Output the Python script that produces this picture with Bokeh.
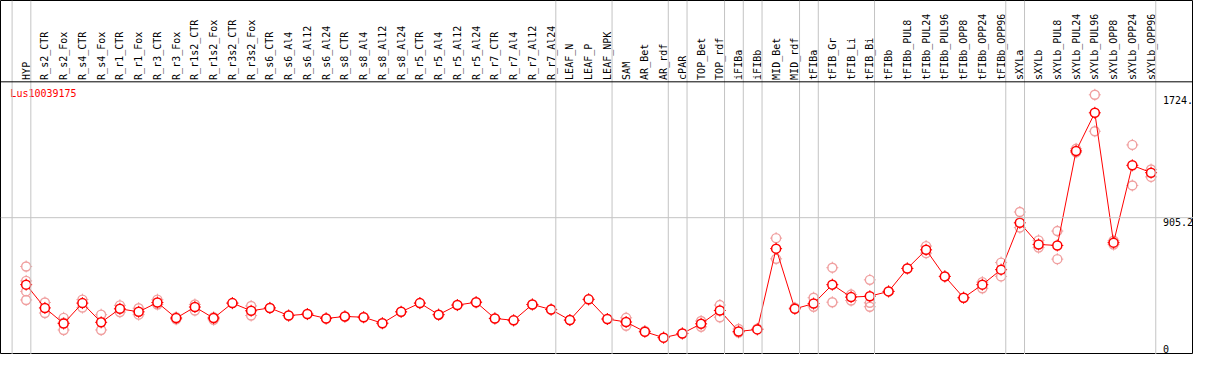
import math
from bokeh.plotting import figure
from bokeh.models import Range1d, Span, ColumnDataSource
from bokeh.core.properties import value
from bokeh.embed import file_html
from bokeh.resources import INLINE

gene = "Lus10039175"

categories = [
    "HYP", "R_s2_CTR", "R_s2_Fox", "R_s4_CTR", "R_s4_Fox", "R_r1_CTR", "R_r1_Fox",
    "R_r3_CTR", "R_r3_Fox", "R_r1s2_CTR", "R_r1s2_Fox", "R_r3s2_CTR", "R_r3s2_Fox",
    "R_s6_CTR", "R_s6_Al4", "R_s6_Al12", "R_s6_Al24", "R_s8_CTR", "R_s8_Al4",
    "R_s8_Al12", "R_s8_Al24", "R_r5_CTR", "R_r5_Al4", "R_r5_Al12", "R_r5_Al24",
    "R_r7_CTR", "R_r7_Al4", "R_r7_Al12", "R_r7_Al24", "LEAF_N", "LEAF_P", "LEAF_NPK",
    "SAM", "AR_Bet", "AR_rdf", "cPAR", "TOP_Bet", "TOP_rdf", "iFIBa", "iFIBb",
    "MID_Bet", "MID_rdf", "tFIBa", "tFIB_Gr", "tFIB_Li", "tFIB_Bi", "tFIBb",
    "tFIBb_PUL8", "tFIBb_PUL24", "tFIBb_PUL96", "tFIBb_OPP8", "tFIBb_OPP24",
    "tFIBb_OPP96", "sXYLa", "sXYLb", "sXYLb_PUL8", "sXYLb_PUL24", "sXYLb_PUL96",
    "sXYLb_OPP8", "sXYLb_OPP24", "sXYLb_OPP96",
]

# number of categories in each separated group (left to right)
group_sizes = [1, 28, 3, 3, 1, 2, 1, 1, 2, 1, 3, 7, 1, 7]

means = [
    459, 304, 200, 336, 208, 298, 278, 340, 236, 310, 236, 336, 285,
    304, 253, 263, 234, 247, 242, 202, 278, 336, 259, 323, 342,
    234, 221, 327, 293, 223, 361, 230,
    210, 145, 106, 134, 198, 287, 147, 161, 699, 298, 333, 459, 376, 382,
    414, 567, 691, 514, 372, 459, 559,
    871, 727, 720, 1350, 1604, 739, 1254, 1205,
]

replicates = [
    [580, 484, 414, 357], [340, 270], [238, 157, 205], [359, 306], [259, 157],
    [321, 276], [302, 259], [359, 327], [242, 228], [327, 287], [242, 225],
    [336], [317, 253],
    [304], [253], [263], [234], [247], [242], [202], [278], [336], [259], [323], [342],
    [234], [221], [327], [293], [223], [361], [230],
    [238, 185], [150], [106], [134], [217, 178], [323, 242], [164, 140], [165],
    [769, 631], [305], [372, 312], [572, 342], [393, 353], [491, 338, 312],
    [414], [567], [716, 669], [514], [372], [476, 435], [606, 514],
    [943, 839], [754, 706], [816, 629], [1364, 1340], [1724, 1481], [752, 726],
    [1390, 1120], [1226, 1177],
]

axis_values = [1724.0, 905.2, 0.0]
axis_labels = ["1724.", "905.2", "0"]

# ---- geometry (reference: 19px per category, header 85px, plot 284px) ----
top = 1810.4                 # value at header line
unit = top / 284.0           # value per reference pixel
y_lo = -1 * unit
y_hi = top + 85 * unit
x_lo = -26 / 19.0
x_hi = (1209 - 26) / 19.0

W, H = 1193, 354
p = figure(width=W, height=H, output_backend="svg", toolbar_location=None,
           x_range=Range1d(x_lo, x_hi), y_range=Range1d(y_lo, y_hi),
           min_border=0, min_border_left=0, min_border_right=0,
           min_border_top=0, min_border_bottom=0)
p.axis.visible = False
p.grid.visible = False
p.outline_line_color = "black"
p.outline_line_width = 1
p.background_fill_color = "white"
p.border_fill_color = "white"

grey = "#c4c4c4"

# group separators
seps = [-0.75]
acc = 0
for g in group_sizes:
    acc += g
    seps.append(acc - 1 + 0.25)
for s in seps:
    p.add_layout(Span(location=s, dimension="height", line_color=grey, line_width=1))

# horizontal mid line and header line
p.add_layout(Span(location=axis_values[1], dimension="width", line_color=grey, line_width=1))
p.add_layout(Span(location=top, dimension="width", line_color="black", line_width=1))

xs = list(range(len(categories)))

# replicates
rx, ry = [], []
for i, reps in enumerate(replicates):
    for r in reps:
        rx.append(i)
        ry.append(r)
pink = "#f0a0a0"
p.scatter(rx, ry, marker="cross", size=12, line_color=pink, line_width=1)
p.scatter(rx, ry, marker="circle", size=8, line_color=None, fill_color="white")
p.scatter(rx, ry, marker="circle", size=9, line_color=pink, fill_alpha=0, line_width=1.4)

# mean line and markers
p.line(xs, means, line_color="red", line_width=1)
p.scatter(xs, means, marker="cross", size=12, line_color="red", line_width=1)
p.scatter(xs, means, marker="circle", size=9, line_color="red", fill_color="white",
          line_width=1.5)

mono = value("DejaVu Sans Mono")

# category labels (rotated)
src = ColumnDataSource(dict(x=xs, y=[top + 2 * unit] * len(xs), t=categories))
p.text(x="x", y="y", text="t", source=src, angle=math.pi / 2, text_align="left",
       text_baseline="middle", text_font=mono, text_font_size="10px", text_color="black")

# gene name
p.text(x=[(10 - 26) / 19.0], y=[top - 6 * unit], text=[gene], text_align="left",
       text_baseline="top", text_font=mono, text_font_size="10px", text_color="red")

# value labels at right
ax_x = (1178 - 26) / 19.0
p.text(x=[ax_x, ax_x], y=[axis_values[0] - 1 * unit, axis_values[1]],
       text=axis_labels[:2], text_align="left", text_baseline="top",
       text_font=mono, text_font_size="10px", text_color="black")
p.text(x=[ax_x], y=[axis_values[2] + 1 * unit], text=axis_labels[2:], text_align="left",
       text_baseline="bottom", text_font=mono, text_font_size="10px", text_color="black")

open("out.html", "w").write(file_html(p, INLINE))
